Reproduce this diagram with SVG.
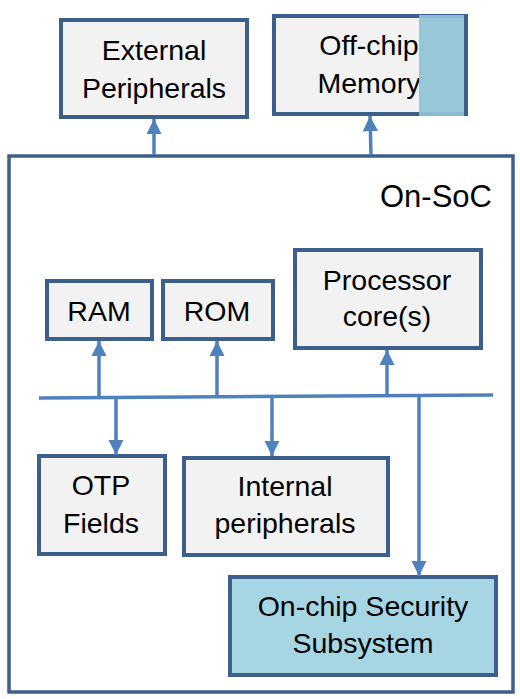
<svg xmlns="http://www.w3.org/2000/svg" width="520" height="699" viewBox="0 0 520 699">
<defs>
<style>
.box{fill:#f2f2f2;stroke:#3d5f8c;stroke-width:4}
.sec{fill:#a6d6e3;stroke:#3d5f8c;stroke-width:4}
.outer{fill:#ffffff;stroke:#3d5f8c;stroke-width:3.5}
.t{font-family:"Liberation Sans",Arial,sans-serif;font-size:28.5px;fill:#000;text-anchor:middle}
.big{font-size:31px}
.c{stroke:#4f81bd;stroke-width:3.5;fill:none}
</style>
<marker id="ah" viewBox="0 0 10 10" refX="10" refY="5" markerWidth="4.4" markerHeight="4.4" orient="auto" markerUnits="strokeWidth">
<path d="M0,0 L10,5 L0,10 z" fill="#4f81bd"/>
</marker>
</defs>
<g id="on-soc">
<rect class="outer" x="9" y="156" width="504" height="536"/>
<text class="t big" x="436" y="207">On-SoC</text>
</g>
<g id="external-peripherals">
<rect class="box" x="61" y="20" width="186" height="97"/>
<text class="t" x="154" y="60">External</text>
<text class="t" x="154" y="98">Peripherals</text>
</g>
<g id="off-chip-memory">
<rect class="box" x="274" y="16" width="192" height="98"/>
<text class="t" x="369" y="55">Off-chip</text>
<text class="t" x="369" y="93">Memory</text>
<rect x="419" y="15" width="45" height="101" fill="#8ec4d6" fill-opacity="0.92"/>
</g>
<g id="ram">
<rect class="box" x="47" y="281" width="105" height="58"/>
<text class="t" x="99" y="321">RAM</text>
</g>
<g id="rom">
<rect class="box" x="163" y="281" width="110" height="58"/>
<text class="t" x="217" y="321">ROM</text>
</g>
<g id="processor">
<rect class="box" x="295" y="250" width="186" height="98"/>
<text class="t" x="387" y="290">Processor</text>
<text class="t" x="387" y="326">core(s)</text>
</g>
<g id="otp">
<rect class="box" x="39" y="456" width="126" height="98"/>
<text class="t" x="101" y="495">OTP</text>
<text class="t" x="101" y="533">Fields</text>
</g>
<g id="internal-peripherals">
<rect class="box" x="184" y="458" width="204" height="97"/>
<text class="t" x="285" y="496">Internal</text>
<text class="t" x="285" y="533">peripherals</text>
</g>
<g id="security">
<rect class="sec" x="230" y="577" width="266" height="98"/>
<text class="t" x="363" y="616">On-chip Security</text>
<text class="t" x="363" y="653">Subsystem</text>
</g>
<g id="connectors">
<line class="c" x1="39" y1="398" x2="493" y2="395"/>
<line class="c" x1="154" y1="155" x2="154" y2="119" marker-end="url(#ah)"/>
<line class="c" x1="371" y1="155" x2="370" y2="116" marker-end="url(#ah)"/>
<line class="c" x1="99" y1="397" x2="99" y2="341" marker-end="url(#ah)"/>
<line class="c" x1="217" y1="397" x2="217" y2="341" marker-end="url(#ah)"/>
<line class="c" x1="387" y1="396" x2="387" y2="350" marker-end="url(#ah)"/>
<line class="c" x1="116" y1="397" x2="116" y2="455" marker-end="url(#ah)"/>
<line class="c" x1="272" y1="396" x2="272" y2="456" marker-end="url(#ah)"/>
<line class="c" x1="419" y1="396" x2="419" y2="576" marker-end="url(#ah)"/>
</g>
</svg>
